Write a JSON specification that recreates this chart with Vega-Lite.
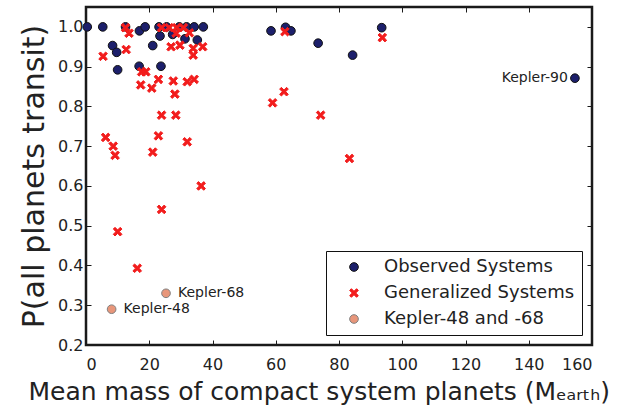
{
  "$schema": "https://vega.github.io/schema/vega-lite/v6.json",
  "width": 506,
  "height": 338,
  "autosize": {"type": "none"},
  "padding": {"left": 86, "top": 7, "right": 26, "bottom": 66},
  "background": "white",
  "config": {
    "font": "DejaVu Sans",
    "view": {"stroke": "#1a1a1a", "strokeWidth": 2.5},
    "axis": {
      "grid": false,
      "domain": false,
      "ticks": true,
      "tickSize": -5,
      "tickColor": "#1a1a1a",
      "tickWidth": 1,
      "labelFont": "DejaVu Sans",
      "labelFontSize": 16,
      "labelColor": "#222222",
      "titleFont": "DejaVu Sans",
      "titleFontWeight": "normal",
      "titleColor": "#222222"
    }
  },
  "datasets": {
    "pts": [
      {"mass": 0.4, "p": 1.0, "s": "Observed Systems"},
      {"mass": 5.3, "p": 1.0, "s": "Observed Systems"},
      {"mass": 12.5, "p": 1.0, "s": "Observed Systems"},
      {"mass": 16.9, "p": 0.99, "s": "Observed Systems"},
      {"mass": 18.7, "p": 1.0, "s": "Observed Systems"},
      {"mass": 23.1, "p": 1.0, "s": "Observed Systems"},
      {"mass": 25.5, "p": 1.0, "s": "Observed Systems"},
      {"mass": 27.4, "p": 0.981, "s": "Observed Systems"},
      {"mass": 29.5, "p": 1.0, "s": "Observed Systems"},
      {"mass": 31.8, "p": 1.0, "s": "Observed Systems"},
      {"mass": 34.2, "p": 1.0, "s": "Observed Systems"},
      {"mass": 37.1, "p": 1.0, "s": "Observed Systems"},
      {"mass": 23.4, "p": 0.977, "s": "Observed Systems"},
      {"mass": 35.2, "p": 0.967, "s": "Observed Systems"},
      {"mass": 31.3, "p": 0.97, "s": "Observed Systems"},
      {"mass": 8.4, "p": 0.953, "s": "Observed Systems"},
      {"mass": 9.7, "p": 0.936, "s": "Observed Systems"},
      {"mass": 21.1, "p": 0.953, "s": "Observed Systems"},
      {"mass": 10.0, "p": 0.892, "s": "Observed Systems"},
      {"mass": 16.8, "p": 0.901, "s": "Observed Systems"},
      {"mass": 23.7, "p": 0.901, "s": "Observed Systems"},
      {"mass": 58.5, "p": 0.99, "s": "Observed Systems"},
      {"mass": 63.1, "p": 0.999, "s": "Observed Systems"},
      {"mass": 64.8, "p": 0.99, "s": "Observed Systems"},
      {"mass": 73.4, "p": 0.959, "s": "Observed Systems"},
      {"mass": 84.3, "p": 0.929, "s": "Observed Systems"},
      {"mass": 93.5, "p": 0.998, "s": "Observed Systems"},
      {"mass": 154.6, "p": 0.871, "s": "Observed Systems", "label": "Kepler-90"},
      {"mass": 5.4, "p": 0.926, "s": "Generalized Systems"},
      {"mass": 12.5, "p": 0.998, "s": "Generalized Systems"},
      {"mass": 13.6, "p": 0.984, "s": "Generalized Systems"},
      {"mass": 12.7, "p": 0.943, "s": "Generalized Systems"},
      {"mass": 23.9, "p": 0.998, "s": "Generalized Systems"},
      {"mass": 26.3, "p": 0.998, "s": "Generalized Systems"},
      {"mass": 28.7, "p": 0.998, "s": "Generalized Systems"},
      {"mass": 30.8, "p": 0.998, "s": "Generalized Systems"},
      {"mass": 28.5, "p": 0.984, "s": "Generalized Systems"},
      {"mass": 32.7, "p": 0.985, "s": "Generalized Systems"},
      {"mass": 26.9, "p": 0.95, "s": "Generalized Systems"},
      {"mass": 29.7, "p": 0.954, "s": "Generalized Systems"},
      {"mass": 33.9, "p": 0.946, "s": "Generalized Systems"},
      {"mass": 36.9, "p": 0.95, "s": "Generalized Systems"},
      {"mass": 33.9, "p": 0.929, "s": "Generalized Systems"},
      {"mass": 17.6, "p": 0.887, "s": "Generalized Systems"},
      {"mass": 18.9, "p": 0.887, "s": "Generalized Systems"},
      {"mass": 17.3, "p": 0.854, "s": "Generalized Systems"},
      {"mass": 20.8, "p": 0.846, "s": "Generalized Systems"},
      {"mass": 22.9, "p": 0.868, "s": "Generalized Systems"},
      {"mass": 27.6, "p": 0.864, "s": "Generalized Systems"},
      {"mass": 28.1, "p": 0.831, "s": "Generalized Systems"},
      {"mass": 32.0, "p": 0.862, "s": "Generalized Systems"},
      {"mass": 34.2, "p": 0.868, "s": "Generalized Systems"},
      {"mass": 23.9, "p": 0.778, "s": "Generalized Systems"},
      {"mass": 28.4, "p": 0.778, "s": "Generalized Systems"},
      {"mass": 6.2, "p": 0.722, "s": "Generalized Systems"},
      {"mass": 8.6, "p": 0.7, "s": "Generalized Systems"},
      {"mass": 9.2, "p": 0.677, "s": "Generalized Systems"},
      {"mass": 22.9, "p": 0.726, "s": "Generalized Systems"},
      {"mass": 21.1, "p": 0.685, "s": "Generalized Systems"},
      {"mass": 32.0, "p": 0.711, "s": "Generalized Systems"},
      {"mass": 36.4, "p": 0.6, "s": "Generalized Systems"},
      {"mass": 10.0, "p": 0.485, "s": "Generalized Systems"},
      {"mass": 23.9, "p": 0.541, "s": "Generalized Systems"},
      {"mass": 16.2, "p": 0.393, "s": "Generalized Systems"},
      {"mass": 62.9, "p": 0.988, "s": "Generalized Systems"},
      {"mass": 93.7, "p": 0.973, "s": "Generalized Systems"},
      {"mass": 59.0, "p": 0.809, "s": "Generalized Systems"},
      {"mass": 62.6, "p": 0.837, "s": "Generalized Systems"},
      {"mass": 74.2, "p": 0.778, "s": "Generalized Systems"},
      {"mass": 83.3, "p": 0.669, "s": "Generalized Systems"},
      {"mass": 8.1, "p": 0.29, "s": "Kepler-48 and -68", "label": "Kepler-48"},
      {"mass": 25.3, "p": 0.33, "s": "Kepler-48 and -68", "label": "Kepler-68"}
    ]
  },
  "data": {"name": "pts"},
  "resolve": {"axis": {"x": "independent", "y": "independent"}},
  "layer": [
    {
      "mark": {"type": "point", "filled": true, "opacity": 1, "strokeWidth": 1, "strokeOpacity": 1},
      "encoding": {
        "x": {
          "field": "mass", "type": "quantitative",
          "scale": {"domain": [0, 160], "nice": false, "zero": false},
          "axis": {"orient": "bottom", "values": [0, 20, 40, 60, 80, 100, 120, 140, 160], "labelPadding": 16, "titlePadding": 7, "titleFontSize": 25, "titleAnchor": "start", "titleAlign": "left", "titleX": -58, "title": "Mean mass of compact system planets (Mₑₐᵣₜₕ)"}
        },
        "y": {
          "field": "p", "type": "quantitative",
          "scale": {"domain": [0.2, 1.05], "nice": false, "zero": false},
          "axis": {"orient": "left", "values": [0.2, 0.3, 0.4, 0.5, 0.6, 0.7, 0.8, 0.9, 1.0], "format": ".1f", "labelPadding": 8, "titlePadding": 8, "titleFontSize": 30, "title": "P(all planets transit)"}
        },
        "shape": {
          "field": "s", "type": "nominal",
          "scale": {"domain": ["Observed Systems", "Generalized Systems", "Kepler-48 and -68"], "range": ["circle", "M-1,-0.6L-0.6,-1L0,-0.4L0.6,-1L1,-0.6L0.4,0L1,0.6L0.6,1L0,0.4L-0.6,1L-1,0.6L-0.4,0Z", "circle"]},
          "legend": {"title": null}
        },
        "fill": {
          "field": "s", "type": "nominal",
          "scale": {"domain": ["Observed Systems", "Generalized Systems", "Kepler-48 and -68"], "range": ["#1c1f6b", "#f21c1c", "#e8967a"]},
          "legend": {"title": null}
        },
        "stroke": {
          "field": "s", "type": "nominal",
          "scale": {"domain": ["Observed Systems", "Generalized Systems", "Kepler-48 and -68"], "range": ["#111111", "#f21c1c", "#808080"]},
          "legend": {
            "title": null,
            "orient": "none",
            "legendX": 240,
            "legendY": 244,
            "padding": 7,
            "strokeColor": "#111111",
            "fillColor": "white",
            "cornerRadius": 0,
            "symbolOffset": 12,
            "labelOffset": 21,
            "labelFontSize": 18,
            "labelLimit": 400,
            "labelColor": "#222222",
            "labelFont": "DejaVu Sans",
            "rowPadding": 8,
            "symbolSize": 75,
            "symbolStrokeWidth": 1
          }
        },
        "size": {"value": 75}
      }
    },
    {
      "transform": [{"filter": "datum.label == 'Kepler-90'"}],
      "mark": {"type": "text", "align": "right", "baseline": "middle", "dx": -7, "fontSize": 14, "font": "DejaVu Sans", "color": "#222222"},
      "encoding": {
        "x": {"field": "mass", "type": "quantitative", "axis": null},
        "y": {"field": "p", "type": "quantitative", "axis": null},
        "text": {"field": "label"}
      }
    },
    {
      "transform": [{"filter": "datum.label == 'Kepler-48' || datum.label == 'Kepler-68'"}],
      "mark": {"type": "text", "align": "left", "baseline": "middle", "dx": 12, "fontSize": 14, "font": "DejaVu Sans", "color": "#222222"},
      "encoding": {
        "x": {"field": "mass", "type": "quantitative", "axis": null},
        "y": {"field": "p", "type": "quantitative", "axis": null},
        "text": {"field": "label"}
      }
    },
    {
      "mark": {"type": "point", "opacity": 0},
      "encoding": {
        "x": {"field": "mass", "type": "quantitative", "axis": {"orient": "top", "values": [0, 20, 40, 60, 80, 100, 120, 140, 160], "labels": false, "title": null}},
        "y": {"field": "p", "type": "quantitative", "axis": {"orient": "right", "values": [0.2, 0.3, 0.4, 0.5, 0.6, 0.7, 0.8, 0.9, 1.0], "labels": false, "title": null}}
      }
    }
  ]
}
